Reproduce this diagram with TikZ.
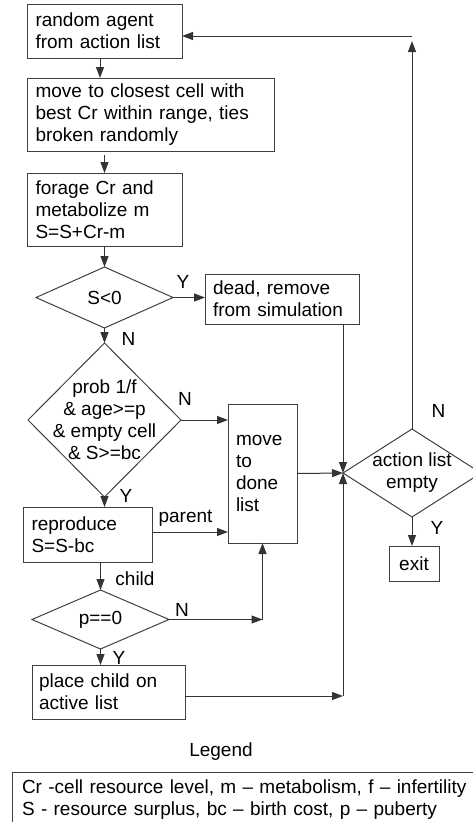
\documentclass[tikz,border=0pt]{standalone}
\usepackage{fontspec}
\setmainfont{Liberation Sans}
\usetikzlibrary{arrows.meta,shapes.geometric}
\tikzset{
  box/.style n args={3}{draw=black!75, line width=1pt, rectangle, minimum width=#1pt, minimum height=#2pt, text width=#3pt, inner xsep=8.5pt, inner ysep=0pt, outer sep=0pt, align=left},
  dia/.style 2 args={draw=black!75, line width=1pt, diamond, minimum width=#1pt, minimum height=#2pt, inner sep=0pt, outer sep=0pt},
  arr/.style={draw=black!80, line width=1pt, -{Triangle[length=11pt,width=8pt]}},
  ln/.style={draw=black!80, line width=1pt},
  lab/.style={inner sep=0pt, outer sep=0pt},
}
\begin{document}
\begin{tikzpicture}[x=1pt,y=-1pt,font=\fontsize{19}{22}\selectfont]
\clip (0,0) rectangle (473,822);
% boxes
\node[box={155}{54}{138}] (b1) at (104.5,31) {random agent\\from action list};
\node[box={247}{73}{230}] (b2) at (150.5,114.5) {move to closest cell with\\best Cr within range, ties\\broken randomly};
\node[box={155}{73}{138}] (b3) at (104.5,209.5) {forage Cr and\\metabolize m\\S=S+Cr-m};
\node[dia={137}{61}, label={[lab]center:S<0}] (d1) at (104.5,297.5) {};
\node[box={154}{50}{138}, inner xsep=8pt] (dead) at (282,299) {dead, remove\\from simulation};
\node[dia={153}{154}, label={[lab,align=center]center:prob 1/f\\\& age>=p\\\& empty cell\\\& S>=bc}] (d2) at (104.5,420) {};
\node[box={69}{139}{53}, inner xsep=8pt] (done) at (262.5,473.5) {move\\to\\done\\list};
\node[box={129}{55}{112}] (rep) at (87.5,534.5) {reproduce\\S=S-bc};
\node[dia={137}{59}, label={[lab]center:p==0}] (d4) at (100.5,619.5) {};
\node[box={153}{54}{139}, inner xsep=7pt] (place) at (108.5,692) {place child on\\active list};
\node[dia={138}{88}, label={[lab,align=center]center:action list\\empty}] (d3) at (412,473) {};
\node[draw=black!75, line width=1pt, minimum width=50pt, minimum height=35pt, inner sep=0pt, outer sep=0pt] (ex) at (414,563.5) {exit};
% helper coordinates
\coordinate (cT) at (412,41);
\coordinate (cH) at (412,36);
\coordinate (cN) at (d4.east -| done.south);
\coordinate (cP) at ([yshift=-4pt]place.east -| d3.west);
% connectors
\draw[arr] ([xshift=-4.5pt]b1.south) -- ([xshift=-4.5pt]b1.south |- b2.north);
\draw[arr] ([yshift=-4pt]b3.north |- b2.south) -- (b3.north);
\draw[arr] (b3.south) -- (d1.north);
\draw[arr] (d1.east) -- (d1.east -| dead.west);
\draw[arr] (d1.south) -- (d2.north);
\draw[arr] (d2.east) -- (d2.east -| done.west);
\draw[arr] (d2.south) -- (d2.south |- rep.north);
\draw[arr] ([yshift=2.5pt]rep.east) -- ([yshift=2.5pt]rep.east -| done.west);
\draw[arr] (d4.north |- rep.south) -- (d4.north);
\draw[arr] (d4.south) -- (d4.south |- place.north);
\draw[arr] (d4.east) -- (cN);
\draw[arr] (cN) -- (done.south);
\draw[arr] (done.east) -- (d3.west);
\draw[arr] (d3.west |- dead.south) -- (d3.west);
\draw[arr] ([yshift=-4pt]place.east) -- (cP);
\draw[arr] (cP) -- (d3.west);
\draw[arr] (d3.south) -- (d3.south |- ex.north);
\draw[arr] (d3.north) -- (cT);
\draw[arr] (cH) -- (cH -| b1.east);
% branch labels
\node[lab] (l1) at (183,281.5) {Y};
\node[lab] (l2) at (128.5,338.5) {N};
\node[lab] (l3) at (185,399) {N};
\node[lab] (l4) at (126,496) {Y};
\node[lab, anchor=base] (l5) at (185.5,522) {parent};
\node[lab, anchor=base] (l6) at (135,585) {child};
\node[lab] (l7) at (182,609.5) {N};
\node[lab] (l8) at (119,658) {Y};
\node[lab] (l9) at (438.5,410.5) {N};
\node[lab] (l10) at (437,527.5) {Y};
% legend
\node[lab, anchor=base] (legt) at (221,756) {Legend};
\node[draw=black!75, line width=1pt, anchor=north west, align=left, text width=470pt, inner xsep=10pt, inner ysep=7.4pt, outer sep=0pt] (leg) at (12,772) {Cr -cell resource level, m – metabolism, f – infertility\\S - resource surplus, bc – birth cost, p – puberty};
\end{tikzpicture}
\end{document}
